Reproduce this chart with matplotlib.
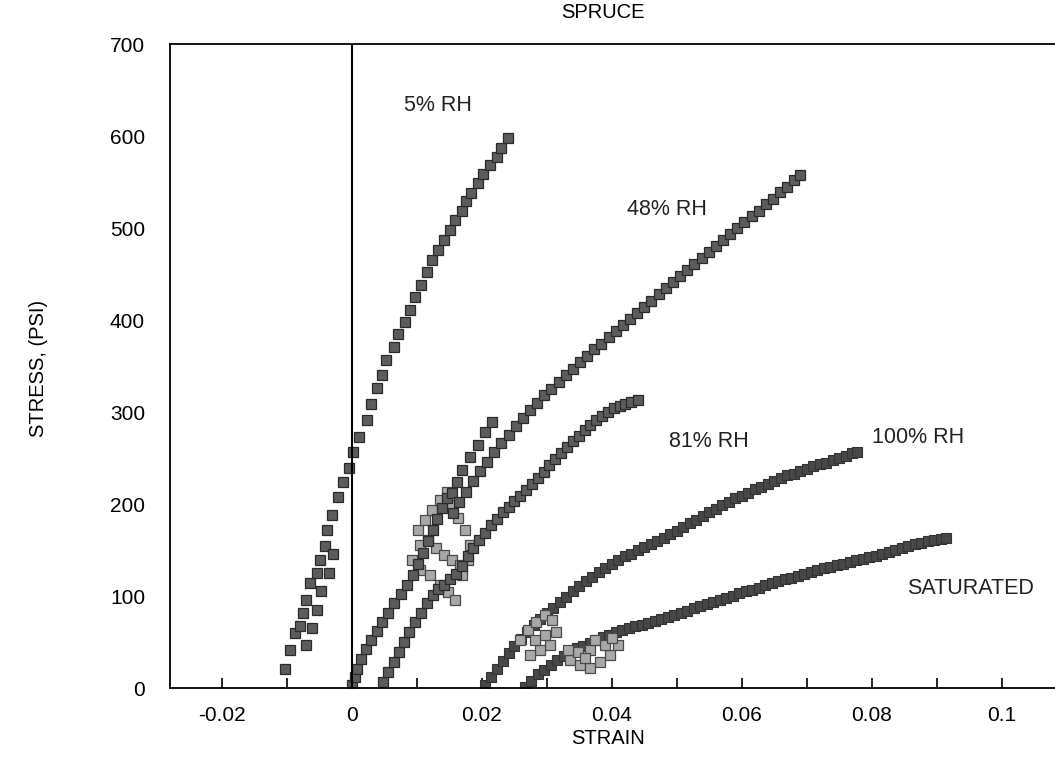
import matplotlib.pyplot as plt

plt.rcParams['font.family'] = ['Liberation Sans', 'DejaVu Sans']

# 5% RH
rh5_strain = [-0.0103, -0.0095, -0.0088, -0.0080, -0.0075, -0.0070, -0.0065, -0.0054, -0.0049,
              -0.0042, -0.0039, -0.0031, -0.0021, -0.0014, -0.0005, 0.0002, 0.0011, 0.0023,
              0.0029, 0.0038, 0.0046, 0.0053, 0.0064, 0.0071, 0.0082, 0.0089, 0.0097, 0.0107,
              0.0115, 0.0123, 0.0133, 0.0141, 0.0151, 0.0158, 0.0169, 0.0176, 0.0184, 0.0194,
              0.0202, 0.0213, 0.0223, 0.0230, 0.0240]
rh5_stress = [21, 41, 60, 67, 81, 96, 114, 125, 139,
              154, 172, 188, 208, 224, 239, 257, 273, 291,
              309, 326, 340, 357, 371, 385, 398, 411, 425, 438,
              452, 465, 476, 487, 498, 509, 518, 529, 538, 549,
              559, 568, 577, 587, 598]
rh5b_strain = [-0.0070, -0.0062, -0.0054, -0.0047, -0.0036, -0.0029]
rh5b_stress = [47, 65, 85, 105, 125, 146]

# 48% RH, first loading
rh48a_strain = [0.0000, 0.0004, 0.0008, 0.0014, 0.0021, 0.0029, 0.0038, 0.0047, 0.0056, 0.0065,
                0.0075, 0.0085, 0.0094, 0.0102, 0.0110, 0.0117, 0.0124, 0.0131, 0.0139, 0.0147,
                0.0154, 0.0162, 0.0169, 0.0182, 0.0194, 0.0205, 0.0215]
rh48a_stress = [3, 12, 21, 31, 42, 52, 62, 72, 82, 92,
                102, 112, 123, 135, 147, 160, 172, 184, 196, 206,
                212, 224, 237, 251, 264, 278, 289]

# 48% RH, main curve
rh48_strain = [0.0155, 0.0165, 0.0175, 0.0186, 0.0197, 0.0208, 0.0219, 0.0230, 0.0241, 0.0252,
               0.0263, 0.0274, 0.0285, 0.0296, 0.0307, 0.0318, 0.0329, 0.0340, 0.0351, 0.0362,
               0.0373, 0.0384, 0.0395, 0.0406, 0.0417, 0.0428, 0.0439, 0.0450, 0.0461, 0.0472,
               0.0483, 0.0494, 0.0505, 0.0516, 0.0527, 0.0538, 0.0549, 0.0560, 0.0571, 0.0582,
               0.0593, 0.0604, 0.0615, 0.0626, 0.0637, 0.0648, 0.0659, 0.0670, 0.0681, 0.0690]
rh48_stress = [190, 202, 213, 225, 236, 246, 256, 266, 275, 285,
               294, 302, 310, 318, 325, 333, 340, 347, 354, 361,
               368, 374, 381, 388, 395, 401, 408, 414, 421, 428,
               435, 441, 448, 454, 461, 467, 474, 480, 487, 494,
               500, 506, 513, 519, 526, 532, 539, 545, 552, 558]

# 81% RH
rh81_strain = [0.0048, 0.0056, 0.0064, 0.0072, 0.0080, 0.0088, 0.0097, 0.0106, 0.0115, 0.0124,
               0.0133, 0.0142, 0.0151, 0.0160, 0.0169, 0.0178, 0.0187, 0.0196, 0.0205, 0.0214,
               0.0223, 0.0232, 0.0241, 0.0250, 0.0259, 0.0268, 0.0277, 0.0286, 0.0295, 0.0304,
               0.0313, 0.0322, 0.0331, 0.0340, 0.0349, 0.0358, 0.0367, 0.0376, 0.0385, 0.0394,
               0.0403, 0.0412, 0.0421, 0.0430, 0.0440]
rh81_stress = [7, 17, 28, 39, 50, 61, 72, 82, 92, 101,
               108, 112, 118, 124, 133, 143, 152, 161, 169, 177,
               184, 191, 197, 203, 209, 215, 222, 228, 235, 242,
               249, 255, 262, 268, 274, 280, 286, 291, 296, 300,
               304, 307, 309, 311, 313]

# scatter of overlapping markers around 0.01-0.018 strain
knot1_strain = [0.0102, 0.0112, 0.0123, 0.0135, 0.0146, 0.0105, 0.0117, 0.0129, 0.0142, 0.0154,
                0.0166, 0.0092, 0.0105, 0.0120, 0.0135, 0.0148, 0.0158, 0.0169, 0.0178, 0.0182,
                0.0174, 0.0163, 0.0154]
knot1_stress = [172, 183, 193, 204, 213, 155, 161, 152, 145, 139,
                134, 139, 128, 123, 112, 104, 96, 123, 139, 155,
                172, 185, 199]

# 100% RH
rh100_strain = [0.0205, 0.0214, 0.0223, 0.0232, 0.0241, 0.0250, 0.0260, 0.0270, 0.0280, 0.0290,
                0.0300, 0.0310, 0.0320, 0.0330, 0.0340, 0.0350, 0.0360, 0.0370, 0.0380, 0.0390,
                0.0400, 0.0410, 0.0420, 0.0430, 0.0440, 0.0450, 0.0460, 0.0470, 0.0480, 0.0490,
                0.0500, 0.0510, 0.0520, 0.0530, 0.0540, 0.0550, 0.0560, 0.0570, 0.0580, 0.0590,
                0.0600, 0.0610, 0.0620, 0.0630, 0.0640, 0.0650, 0.0660, 0.0670, 0.0680, 0.0690,
                0.0700, 0.0710, 0.0720, 0.0730, 0.0740, 0.0750, 0.0760, 0.0770, 0.0778]
rh100_stress = [3, 12, 21, 29, 38, 46, 53, 61, 68, 75,
                81, 87, 93, 99, 105, 111, 116, 121, 126, 130,
                135, 139, 143, 146, 150, 153, 157, 160, 163, 167,
                171, 175, 179, 183, 187, 191, 195, 199, 202, 206,
                209, 212, 216, 219, 222, 225, 228, 231, 233, 236,
                238, 241, 243, 245, 248, 250, 252, 255, 257]
knot2_strain = [0.0258, 0.0271, 0.0283, 0.0297, 0.0308, 0.0314, 0.0305, 0.0289, 0.0274, 0.0297, 0.0282]
knot2_stress = [52, 63, 72, 79, 74, 61, 47, 41, 36, 58, 52]

# saturated
sat_strain = [0.0266, 0.0276, 0.0286, 0.0296, 0.0306, 0.0316, 0.0326, 0.0336, 0.0346, 0.0356,
              0.0366, 0.0376, 0.0386, 0.0396, 0.0406, 0.0416, 0.0426, 0.0436, 0.0446, 0.0456,
              0.0466, 0.0476, 0.0486, 0.0496, 0.0506, 0.0516, 0.0526, 0.0536, 0.0546, 0.0556,
              0.0566, 0.0576, 0.0586, 0.0596, 0.0606, 0.0616, 0.0626, 0.0636, 0.0646, 0.0656,
              0.0666, 0.0676, 0.0686, 0.0696, 0.0706, 0.0716, 0.0726, 0.0736, 0.0746, 0.0756,
              0.0766, 0.0776, 0.0786, 0.0796, 0.0806, 0.0816, 0.0826, 0.0836, 0.0846, 0.0856,
              0.0866, 0.0876, 0.0886, 0.0896, 0.0906, 0.0915]
sat_stress = [1, 8, 15, 20, 25, 30, 35, 39, 43, 46,
              49, 52, 55, 58, 61, 63, 65, 67, 69, 71,
              73, 75, 77, 79, 82, 84, 87, 89, 91, 93,
              96, 98, 100, 103, 105, 107, 109, 112, 114, 116,
              118, 120, 122, 124, 126, 128, 130, 132, 134, 135,
              137, 139, 140, 142, 144, 146, 148, 150, 152, 154,
              156, 158, 160, 161, 162, 163]
knot3_strain = [0.0335, 0.0351, 0.0366, 0.0382, 0.0397, 0.0409, 0.0389, 0.0366, 0.0348, 0.0374,
                0.0400, 0.0358, 0.0332]
knot3_stress = [30, 25, 22, 28, 36, 47, 47, 41, 39, 52, 54, 33, 41]

labels = ['5% RH', '48% RH', '81% RH', '100% RH', 'SATURATED']
label_x = [0.0080, 0.0424, 0.0488, 0.0800, 0.0855]
label_y = [633, 520, 268, 272, 108]

fig = plt.figure(figsize=(10.55, 7.69), dpi=100)
ax = fig.add_axes([170 / 1055, 81 / 769, 885 / 1055, 644 / 769])

dark = dict(linestyle='none', marker='s', markersize=7, markerfacecolor='#5c5c5c',
            markeredgecolor='#2a2a2a', markeredgewidth=0.9)
dense = dict(linestyle='none', marker='s', markersize=7, markerfacecolor='#474747',
             markeredgecolor='#333333', markeredgewidth=0.8)
light = dict(linestyle='none', marker='s', markersize=7, markerfacecolor='#a8a8a8',
             markeredgecolor='#4a4a4a', markeredgewidth=0.9)

ax.plot(rh5_strain, rh5_stress, **dark)
ax.plot(rh5b_strain, rh5b_stress, **dark)
ax.plot(knot1_strain, knot1_stress, **light)
ax.plot(rh48a_strain, rh48a_stress, **dark)
ax.plot(rh48_strain, rh48_stress, **dark)
ax.plot(rh81_strain, rh81_stress, **dark)
ax.plot(rh100_strain, rh100_stress, **dense)
ax.plot(knot2_strain, knot2_stress, **light)
ax.plot(sat_strain, sat_stress, **dense)
ax.plot(knot3_strain, knot3_stress, **light)

ax.axvline(0, color='black', linewidth=1.5)

for i in range(len(labels)):
    ax.text(label_x[i], label_y[i], labels[i], fontsize=15.5, ha='left', va='center', color='#222222')

ax.set_xlim(-0.028, 0.1082)
ax.set_ylim(0, 700)

ax.set_xticks([-0.02, 0, 0.02, 0.04, 0.06, 0.08, 0.1])
ax.set_xticklabels(['-0.02', '0', '0.02', '0.04', '0.06', '0.08', '0.1'])
ax.set_xticks([-0.01, 0.01, 0.03, 0.05, 0.07, 0.09], minor=True)
ax.tick_params(axis='x', which='both', direction='in', length=7, width=1.2, pad=13, labelsize=15)
ax.set_yticks([0, 100, 200, 300, 400, 500, 600, 700])
ax.tick_params(axis='y', length=0, pad=18, labelsize=15)

ax.spines['right'].set_visible(False)
for s in ['left', 'bottom', 'top']:
    ax.spines[s].set_linewidth(1.3)

fig.text(603 / 1055, 1 - 13 / 769, 'SPRUCE', fontsize=14.5, ha='center', va='center')
fig.text(608 / 1055, 1 - 738 / 769, 'STRAIN', fontsize=14.5, ha='center', va='center')
fig.text(38 / 1055, 1 - 368 / 769, 'STRESS, (PSI)', fontsize=14.5, ha='center', va='center', rotation=90)

plt.savefig('out.png')
